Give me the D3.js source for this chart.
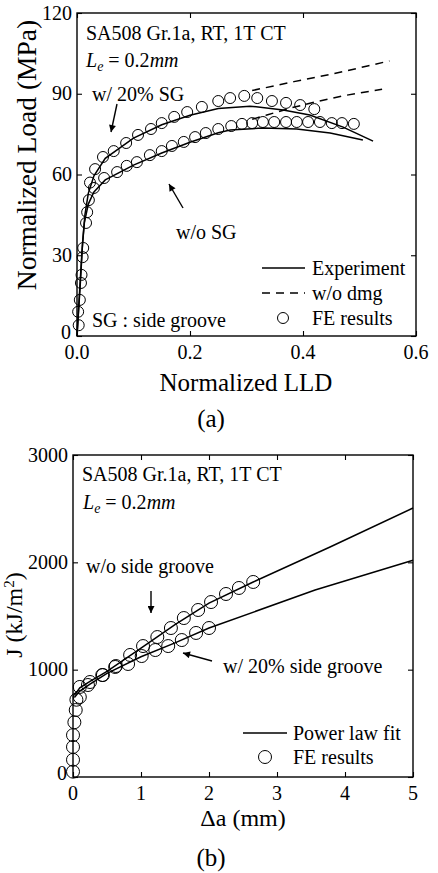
<!DOCTYPE html>
<html><head><meta charset="utf-8">
<script src="https://cdn.jsdelivr.net/npm/d3@7/dist/d3.min.js"></script>
<style>
html,body{margin:0;padding:0;background:#fff;}
svg text{font-family:"Liberation Serif","Times New Roman",serif;fill:#000;}
</style></head>
<body><svg id="c" width="438" height="873"></svg>
<script>
// ---------- Panel (a) data: Normalized LLD vs Normalized Load ----------
const aXTicks = [0.0, 0.2, 0.4, 0.6];
const aYTicks = [0, 30, 60, 90, 120];
const feWithSG = [[0.003,4],[0.005,13.4],[0.008,22.7],[0.011,32.7],[0.018,46],[0.023,57],[0.032,62],[0.046,66.5],[0.065,68.7],[0.087,71.7],[0.108,74.7],[0.131,76.9],[0.150,79.1],[0.172,81.4],[0.195,83.2],[0.221,85.1],[0.250,87.3],[0.271,88.4],[0.296,89.2],[0.319,88.4],[0.345,87.3],[0.370,86.6],[0.395,85.8],[0.420,84.3]];
const feNoSG = [[0.002,9],[0.007,19.7],[0.010,29.3],[0.016,42],[0.021,50.5],[0.030,55],[0.048,58.7],[0.071,60.9],[0.088,63.2],[0.106,64.6],[0.129,67.2],[0.150,68.7],[0.168,70.6],[0.189,72.1],[0.209,73.9],[0.228,75.4],[0.250,76.9],[0.273,78.0],[0.292,78.8],[0.310,79.1],[0.329,79.5],[0.349,79.5],[0.370,79.5],[0.389,79.5],[0.409,79.5],[0.430,79.5],[0.451,79.1],[0.469,79.1],[0.490,78.8]];
const expWithSG = [[0,0],[0.006,20],[0.010,35],[0.014,45],[0.02,53],[0.03,59.5],[0.05,66],[0.1,73.5],[0.15,78.5],[0.2,82],[0.25,84.5],[0.306,85.4],[0.365,84.0],[0.412,82.1],[0.471,77.6],[0.524,72.4]];
const expNoSG = [[0,0],[0.005,18],[0.009,32],[0.013,42],[0.02,49],[0.03,53.5],[0.05,58],[0.1,63.5],[0.15,68],[0.2,72],[0.25,75.5],[0.271,76.5],[0.329,77.3],[0.389,76.9],[0.448,75.4],[0.506,72.8]];
const noDmgWithSG = [[0.31,91.2],[0.384,94.5],[0.449,97.2],[0.514,100.3],[0.553,102.2]];
const noDmgNoSG = [[0.31,80.5],[0.336,82.1],[0.38,84.8],[0.421,86.9],[0.47,89.2],[0.54,91.7]];

// ---------- Panel (b) data: Δa vs J ----------
const bXTicks = [0, 1, 2, 3, 4, 5];
const bYTicks = [0, 1000, 2000, 3000];
const jFeNoSG = [[0,50],[0,280],[0.02,510],[0.05,720],[0.10,839],[0.25,885],[0.43,950],[0.63,1034],[0.84,1137],[1.03,1220],[1.24,1304],[1.44,1388],[1.63,1481],[1.84,1556],[2.03,1630],[2.25,1705],[2.44,1761],[2.65,1817]];
const jFeSG = [[0,160],[0,390],[0.04,624],[0.10,745],[0.22,857],[0.44,950],[0.62,1025],[0.81,1053],[1.01,1127],[1.21,1183],[1.40,1220],[1.60,1276],[1.81,1342],[2.0,1388]];
const jFitNoSG = [[0.02,760],[0.1,830],[0.25,890],[0.5,985],[1.0,1200],[1.5,1420],[2.0,1620],[2.65,1817],[3.78,2143],[5,2506]];
const jFitSG = [[0.02,740],[0.1,800],[0.25,865],[0.5,965],[1.0,1120],[1.5,1250],[2.0,1388],[3.56,1742],[5,2020]];

const svg = d3.select("#c");
const defs = svg.append("defs");
defs.append("marker").attr("id","ah").attr("viewBox","0 0 10 10").attr("refX",10).attr("refY",5)
  .attr("markerWidth",9).attr("markerHeight",7).attr("markerUnits","userSpaceOnUse").attr("orient","auto")
  .append("path").attr("d","M0,0L10,5L0,10Z").attr("fill","#000");

function frame(g, x, y, xMajor, xMinor, yMajor, yMinor, xFmt, yFmt) {
  const [x0,x1] = x.range(), [y0,y1] = y.range();
  const M = 5, m = 3;
  const bot = g.append("g").attr("transform",`translate(0,${y0})`);
  bot.call(d3.axisBottom(x).tickValues(xMinor).tickSize(-m).tickFormat(""));
  bot.call(d3.axisBottom(x).tickValues(xMajor).tickSize(-M).tickFormat(""));
  const top = g.append("g").attr("transform",`translate(0,${y1})`);
  top.call(d3.axisTop(x).tickValues(xMinor).tickSize(-m).tickFormat(""));
  top.call(d3.axisTop(x).tickValues(xMajor).tickSize(-M).tickFormat(""));
  const lft = g.append("g").attr("transform",`translate(${x0},0)`);
  lft.call(d3.axisLeft(y).tickValues(yMinor).tickSize(-m).tickFormat(""));
  lft.call(d3.axisLeft(y).tickValues(yMajor).tickSize(-M).tickFormat(""));
  const rgt = g.append("g").attr("transform",`translate(${x1},0)`);
  rgt.call(d3.axisRight(y).tickValues(yMinor).tickSize(-m).tickFormat(""));
  rgt.call(d3.axisRight(y).tickValues(yMajor).tickSize(-M).tickFormat(""));
  g.selectAll(".domain").remove();
  g.selectAll(".tick line").attr("stroke","#000").attr("stroke-width",1.1);
  g.append("rect").attr("x",x0).attr("y",y1).attr("width",x1-x0).attr("height",y0-y1)
    .attr("fill","none").attr("stroke","#000").attr("stroke-width",1.4);
  g.selectAll(".xl").data(xMajor).enter().append("text")
    .attr("x",d=>x(d)).attr("y",y0+23).attr("text-anchor","middle").attr("font-size",20).text(xFmt);
  g.selectAll(".yl").data(yMajor).enter().append("text")
    .attr("x",d=>x0-(d===0?6:5)).attr("y",d=>y(d)+(d===0?3:6.5)).attr("text-anchor","end").attr("font-size",20).text(yFmt);
}

// ================= Panel (a) =================
const ga = svg.append("g");
const xa = d3.scaleLinear().domain([0,0.6]).range([77,416]);
const ya = d3.scaleLinear().domain([0,120]).range([336,13]);
frame(ga, xa, ya, aXTicks, d3.range(0,0.61,0.1).map(v=>+v.toFixed(2)), aYTicks, d3.range(0,121,15),
  d=>d.toFixed(1), d=>d);
const lineA = d3.line().x(d=>xa(d[0])).y(d=>ya(d[1]));
[expWithSG, expNoSG].forEach(s=>ga.append("path").attr("d",lineA(s)).attr("fill","none").attr("stroke","#000").attr("stroke-width",1.5));
[noDmgWithSG, noDmgNoSG].forEach(s=>ga.append("path").attr("d",lineA(s)).attr("fill","none").attr("stroke","#000").attr("stroke-width",1.5).attr("stroke-dasharray","8,6"));
[feWithSG, feNoSG].forEach(s=>ga.selectAll(null).data(s).enter().append("circle")
  .attr("cx",d=>xa(d[0])).attr("cy",d=>ya(d[1])).attr("r",5.5).attr("fill","none").attr("stroke","#000").attr("stroke-width",1));

ga.append("text").attr("x",86).attr("y",40).attr("font-size",20).text("SA508 Gr.1a, RT, 1T CT");
const le1 = ga.append("text").attr("x",86).attr("y",67).attr("font-size",20);
le1.append("tspan").attr("font-style","italic").text("L");
le1.append("tspan").attr("font-style","italic").attr("font-size",14).attr("dy",4).text("e");
le1.append("tspan").attr("dy",-4).text(" = 0.2");
le1.append("tspan").attr("font-style","italic").text("mm");
ga.append("text").attr("x",92).attr("y",100.5).attr("font-size",20).text("w/ 20% SG");
ga.append("line").attr("x1",117).attr("y1",104).attr("x2",111).attr("y2",132).attr("stroke","#000").attr("stroke-width",1.4).attr("marker-end","url(#ah)");
ga.append("text").attr("x",176).attr("y",238.5).attr("font-size",20).text("w/o SG");
ga.append("line").attr("x1",183).attr("y1",208).attr("x2",169).attr("y2",184).attr("stroke","#000").attr("stroke-width",1.4).attr("marker-end","url(#ah)");
ga.append("text").attr("x",92).attr("y",327).attr("font-size",20).text("SG : side groove");
ga.append("line").attr("x1",262).attr("x2",305).attr("y1",268).attr("y2",268).attr("stroke","#000").attr("stroke-width",1.5);
ga.append("text").attr("x",312).attr("y",275).attr("font-size",20).text("Experiment");
ga.append("line").attr("x1",262).attr("x2",305).attr("y1",293).attr("y2",293).attr("stroke","#000").attr("stroke-width",1.5).attr("stroke-dasharray","8,6");
ga.append("text").attr("x",312).attr("y",300).attr("font-size",20).text("w/o dmg");
ga.append("circle").attr("cx",283).attr("cy",318).attr("r",5.5).attr("fill","none").attr("stroke","#000");
ga.append("text").attr("x",312).attr("y",325).attr("font-size",20).text("FE results");
ga.append("text").attr("x",246).attr("y",391).attr("text-anchor","middle").attr("font-size",25).text("Normalized LLD");
ga.append("text").attr("transform","translate(36,155) rotate(-90)").attr("text-anchor","middle").attr("font-size",27.5).text("Normalized Load (MPa)");
ga.append("text").attr("x",211).attr("y",427).attr("text-anchor","middle").attr("font-size",25).text("(a)");

// ================= Panel (b) =================
const gb = svg.append("g");
const xb = d3.scaleLinear().domain([0,5]).range([73,413]);
const yb = d3.scaleLinear().domain([0,3000]).range([777,455]);
frame(gb, xb, yb, bXTicks, d3.range(0,5.01,0.2).map(v=>+v.toFixed(1)), bYTicks, d3.range(0,3001,200),
  d=>d, d=>d);
const lineB = d3.line().x(d=>xb(d[0])).y(d=>yb(d[1]));
[jFitNoSG, jFitSG].forEach(s=>gb.append("path").attr("d",lineB(s)).attr("fill","none").attr("stroke","#000").attr("stroke-width",1.5));
[jFeNoSG, jFeSG].forEach(s=>gb.selectAll(null).data(s).enter().append("circle")
  .attr("cx",d=>xb(d[0])).attr("cy",d=>yb(d[1])).attr("r",6.5).attr("fill","none").attr("stroke","#000").attr("stroke-width",1));
gb.append("text").attr("x",82).attr("y",481).attr("font-size",20).text("SA508 Gr.1a, RT, 1T CT");
const le2 = gb.append("text").attr("x",83).attr("y",509).attr("font-size",20);
le2.append("tspan").attr("font-style","italic").text("L");
le2.append("tspan").attr("font-style","italic").attr("font-size",14).attr("dy",4).text("e");
le2.append("tspan").attr("dy",-4).text(" = 0.2");
le2.append("tspan").attr("font-style","italic").text("mm");
gb.append("text").attr("x",86).attr("y",572.5).attr("font-size",20).text("w/o side groove");
gb.append("line").attr("x1",151).attr("y1",591).attr("x2",151).attr("y2",613).attr("stroke","#000").attr("stroke-width",1.4).attr("marker-end","url(#ah)");
gb.append("text").attr("x",223).attr("y",672.5).attr("font-size",20).text("w/ 20% side groove");
gb.append("line").attr("x1",212).attr("y1",661).attr("x2",183).attr("y2",653).attr("stroke","#000").attr("stroke-width",1.4).attr("marker-end","url(#ah)");
gb.append("line").attr("x1",243).attr("x2",287).attr("y1",733).attr("y2",733).attr("stroke","#000").attr("stroke-width",1.5);
gb.append("text").attr("x",293).attr("y",740).attr("font-size",20).text("Power law fit");
gb.append("circle").attr("cx",265).attr("cy",757).attr("r",6.5).attr("fill","none").attr("stroke","#000");
gb.append("text").attr("x",293).attr("y",764).attr("font-size",20).text("FE results");
gb.append("text").attr("x",243).attr("y",826).attr("text-anchor","middle").attr("font-size",24).text("Δa (mm)");
const jl = gb.append("text").attr("transform","translate(22,615) rotate(-90)").attr("text-anchor","middle").attr("font-size",24);
jl.append("tspan").text("J (kJ/m");
jl.append("tspan").attr("font-size",15).attr("dy",-8).text("2");
jl.append("tspan").attr("dy",8).text(")");
gb.append("text").attr("x",211).attr("y",866).attr("text-anchor","middle").attr("font-size",25).text("(b)");
</script></body></html>
